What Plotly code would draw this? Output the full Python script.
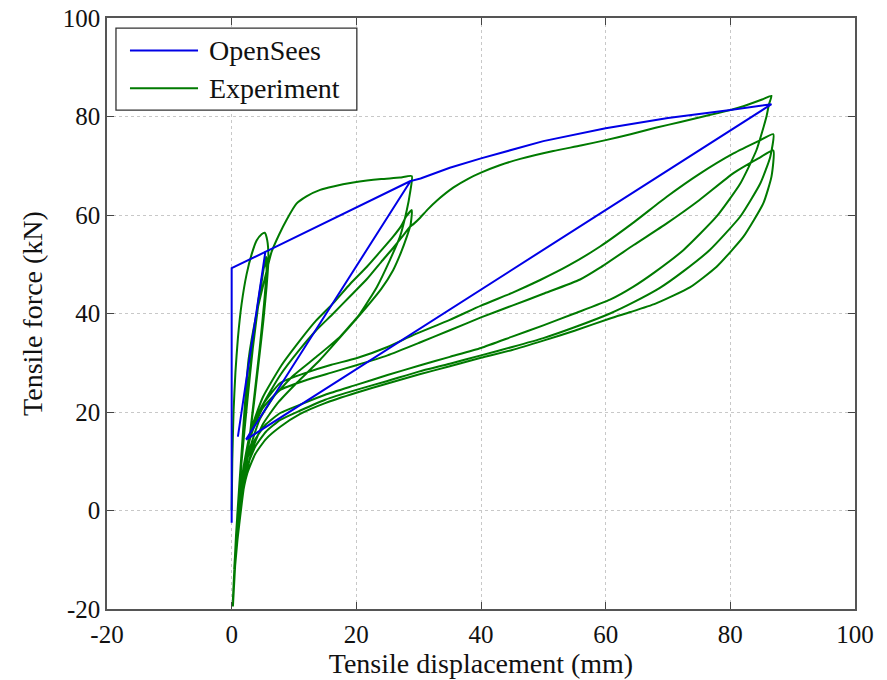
import plotly.graph_objects as go

# ---------------- OpenSees model response ----------------
opensees_x = [0.0, 0.0, 5.4, 1.0, 5.4, 28.7, 2.3, 28.7, 30.3, 35.0, 40.0, 50.0, 60.0, 70.0, 80.0, 86.6, 2.3]
opensees_y = [-2.5, 49.2, 52.5, 15.0, 52.5, 66.9, 14.4, 66.9, 67.4, 69.6, 71.5, 75.0, 77.6, 79.7, 81.3, 82.5, 14.4]

# ---------------- Experimental record, cycle by cycle ----------------
# small cycles up to ~5 mm
cyc1_x = [0.0, 0.1, 0.3, 0.6, 1.0, 1.6, 2.4, 3.2, 4.0, 4.8, 5.3, 5.7, 5.9, 5.6, 5.1, 4.5, 3.6, 2.6, 1.6, 0.9, 0.4]
cyc1_y = [0.0, 10.0, 20.0, 28.0, 35.0, 42.0, 48.0, 52.0, 54.8, 56.1, 56.4, 54.9, 50.9, 45.4, 38.7, 31.9, 22.0, 12.0, 3.0, -5.0, -12.0]
cyc2_x = [0.9, 1.6, 2.5, 3.4, 4.3, 5.0, 5.5, 5.7, 5.4, 4.8, 4.0, 3.1, 2.1, 1.2, 0.5, 0.2]
cyc2_y = [-2.0, 10.0, 22.0, 33.0, 42.0, 48.0, 51.5, 50.0, 44.0, 36.0, 27.0, 17.0, 7.0, -2.0, -11.0, -18.0]
cyc3_x = [0.7, 1.4, 2.3, 3.2, 4.1, 4.9, 5.4, 5.6, 5.2, 4.5, 3.7, 2.8, 1.8, 1.0, 0.4]
cyc3_y = [-5.0, 8.0, 21.0, 32.0, 41.0, 47.5, 50.5, 49.0, 42.0, 33.0, 24.0, 14.0, 4.0, -4.0, -13.0]
# first excursion to ~29 mm
load29_x = [0.9, 1.6, 2.7, 4.0, 5.3, 6.4, 7.6, 8.8, 10.4, 12.0, 14.2, 16.3, 19.5, 21.7, 24.0, 27.0, 28.9]
load29_y = [-1.0, 12.0, 30.6, 40.0, 47.0, 52.5, 56.0, 59.0, 62.3, 63.8, 65.1, 65.8, 66.6, 67.0, 67.3, 67.6, 67.9]
unl29a_x = [28.6, 28.1, 27.0, 25.4, 23.3, 20.6, 17.4, 13.6, 10.0, 7.0, 4.5, 2.8, 1.7, 1.0, 0.5]
unl29a_y = [64.4, 61.0, 55.6, 50.9, 45.4, 40.0, 35.3, 31.2, 27.5, 23.5, 18.5, 12.0, 4.0, -4.0, -12.0]
rel29b_x = [1.0, 1.8, 3.0, 5.0, 8.0, 11.0, 13.5, 16.3, 19.0, 21.7, 24.0, 25.9, 27.2, 28.0, 28.9]
rel29b_y = [-2.0, 8.0, 16.0, 23.0, 29.5, 34.6, 38.5, 42.1, 46.0, 49.5, 52.8, 55.6, 57.8, 59.7, 61.0]
unl29b_x = [28.7, 28.1, 27.2, 25.9, 24.0, 21.7, 18.0, 14.2, 10.5, 7.5, 5.0, 3.2, 2.0, 1.2, 0.6, 0.3]
unl29b_y = [58.0, 55.6, 52.5, 48.8, 45.0, 41.4, 36.0, 30.6, 26.0, 22.0, 17.5, 12.0, 5.0, -3.0, -10.0, -16.0]
# reload through ~29 mm and on to ~87 mm
load87_x = [0.9, 1.7, 2.8, 4.8, 7.8, 10.8, 13.5, 16.3, 19.0, 21.7, 24.0, 25.9, 27.5, 28.6, 29.2, 30.2, 31.5,
            32.9, 35.6, 38.0, 40.0, 43.0, 46.3, 51.6, 56.0, 60.0, 64.0, 68.0, 72.0, 76.0, 80.0, 83.0, 85.2, 86.6]
load87_y = [-4.0, 6.0, 14.0, 21.0, 27.5, 32.5, 36.5, 40.0, 43.5, 47.0, 50.5, 53.3, 55.8, 57.6, 58.2, 59.4, 61.2,
            62.9, 65.6, 67.4, 68.6, 70.1, 71.4, 73.0, 74.1, 75.2, 76.4, 77.7, 78.9, 80.1, 81.3, 82.5, 83.5, 84.2]
unl87a_x = [86.2, 85.8, 84.2, 81.6, 77.8, 72.5, 68.0, 64.4, 60.7, 55.0, 50.0, 45.0, 40.0, 35.0, 30.0, 25.0,
            20.0, 15.0, 11.0, 7.8, 5.5, 3.8, 2.5, 1.6, 1.0, 0.5, 0.2]
unl87a_y = [82.5, 80.0, 73.2, 66.4, 59.7, 52.9, 48.5, 45.4, 42.8, 40.0, 37.6, 35.3, 33.0, 31.2, 29.4, 27.5,
            25.5, 23.5, 21.5, 19.8, 17.5, 14.5, 10.5, 5.0, -2.0, -10.0, -19.5]
rel87b_x = [0.7, 1.3, 2.1, 3.2, 5.0, 7.8, 12.0, 16.0, 20.0, 25.0, 29.1, 35.0, 40.0, 45.0, 49.5, 54.0, 59.1,
            64.5, 69.8, 75.0, 80.5, 84.5, 86.9]
rel87b_y = [-8.0, 2.0, 10.0, 16.5, 21.5, 25.9, 28.0, 29.6, 30.9, 33.2, 35.6, 38.7, 41.6, 44.2, 46.8, 49.7, 53.6,
            58.5, 63.7, 68.3, 72.5, 75.0, 76.4]
unl87b_x = [86.4, 84.8, 81.6, 76.7, 72.5, 68.7, 64.5, 60.7, 55.0, 50.0, 45.0, 40.0, 35.0, 30.0, 25.0, 20.0,
            15.0, 11.0, 7.8, 5.5, 3.8, 2.5, 1.6, 1.0, 0.5, 0.3]
unl87b_y = [71.8, 66.4, 59.7, 52.9, 48.6, 45.2, 42.3, 40.0, 37.2, 35.0, 33.2, 31.5, 29.8, 28.2, 26.3, 24.5,
            22.5, 20.3, 18.4, 16.0, 13.0, 9.0, 3.0, -4.0, -11.0, -16.0]
rel87c_x = [0.8, 1.4, 2.2, 3.3, 5.0, 7.8, 12.0, 16.0, 20.0, 25.0, 30.0, 35.0, 40.0, 45.0, 50.0, 55.9, 59.1,
            64.5, 69.8, 75.0, 80.5, 84.5, 86.9]
rel87c_y = [-6.0, 3.0, 10.5, 16.0, 20.8, 24.5, 26.5, 28.0, 29.5, 31.5, 34.0, 36.6, 39.2, 41.6, 44.0, 46.9, 49.3,
            53.9, 58.3, 63.0, 68.5, 71.5, 73.1]
unl87c_x = [86.6, 85.3, 82.1, 77.8, 73.5, 68.0, 64.0, 60.7, 55.0, 50.0, 45.0, 40.0, 35.0, 30.0, 25.0, 20.0,
            15.0, 11.0, 7.8, 5.5, 3.8, 2.5, 1.6, 1.0, 0.5]
unl87c_y = [67.8, 62.4, 55.6, 49.5, 45.3, 42.0, 40.3, 39.0, 36.5, 34.5, 32.6, 31.0, 29.3, 27.6, 25.8, 23.9,
            21.8, 19.6, 17.0, 14.5, 11.5, 7.5, 2.0, -5.0, -12.0]

segments = [
    (cyc1_x, cyc1_y), (cyc2_x, cyc2_y), (cyc3_x, cyc3_y),
    (load29_x, load29_y), (unl29a_x, unl29a_y), (rel29b_x, rel29b_y), (unl29b_x, unl29b_y),
    (load87_x, load87_y), (unl87a_x, unl87a_y), (rel87b_x, rel87b_y), (unl87b_x, unl87b_y),
    (rel87c_x, rel87c_y), (unl87c_x, unl87c_y),
]
exp_x, exp_y = [], []
for sx, sy in segments:
    exp_x += sx
    exp_y += sy

tick_vals = [-20, 0, 20, 40, 60, 80, 100]
tick_text = ["-20", "0", "20", "40", "60", "80", "100"]

BLUE = "#0000E6"
GREEN = "#007A00"
FONT = "Liberation Serif"

fig = go.Figure()
fig.add_trace(go.Scatter(x=exp_x, y=exp_y, mode="lines", name="Experiment",
                         line=dict(color=GREEN, width=2, shape="spline", smoothing=0.5)))
fig.add_trace(go.Scatter(x=opensees_x, y=opensees_y, mode="lines", name="OpenSees",
                         line=dict(color=BLUE, width=2)))

axis_common = dict(
    range=[-20, 100], tickmode="array", tickvals=tick_vals, ticktext=tick_text,
    ticks="inside", ticklen=7, tickwidth=1.3, tickcolor="#444",
    showline=True, linecolor="#555", linewidth=1.5, mirror="ticks",
    showgrid=True, gridcolor="#c8c8c8", griddash="dot", gridwidth=1,
    zeroline=False, automargin=False, tickfont=dict(family=FONT, size=25, color="#111"),
)
fig.update_xaxes(**axis_common, ticklabelstandoff=2,
                 title=dict(text="Tensile displacement (mm)", font=dict(family=FONT, size=28, color="#111"),
                            standoff=6))
fig.update_yaxes(**axis_common,
                 title=dict(text="Tensile force (kN)", font=dict(family=FONT, size=28, color="#111"),
                            standoff=12))

# legend box drawn by hand so the sample lines have the long MATLAB look
lx0, lx1, ly0, ly1 = 0.012, 0.334, 0.844, 0.983
shapes = [dict(type="rect", xref="paper", yref="paper", x0=lx0, x1=lx1, y0=ly0, y1=ly1,
               line=dict(color="#333", width=1.3), fillcolor="white", layer="above")]
annotations = []
for ypos, col, label in [(0.945, BLUE, "OpenSees"), (0.881, GREEN, "Experiment")]:
    shapes.append(dict(type="line", xref="paper", yref="paper", x0=0.0307, x1=0.1217, y0=ypos, y1=ypos,
                       line=dict(color=col, width=2), layer="above"))
    annotations.append(dict(xref="paper", yref="paper", x=0.1337, y=ypos, text=label, showarrow=False,
                            xanchor="left", yanchor="middle",
                            font=dict(family=FONT, size=28, color="#111")))

fig.update_layout(
    width=887, height=680,
    margin=dict(l=107, r=32, t=18, b=71),
    paper_bgcolor="white", plot_bgcolor="white",
    showlegend=False, shapes=shapes, annotations=annotations,
)

fig.write_html("out.html")
